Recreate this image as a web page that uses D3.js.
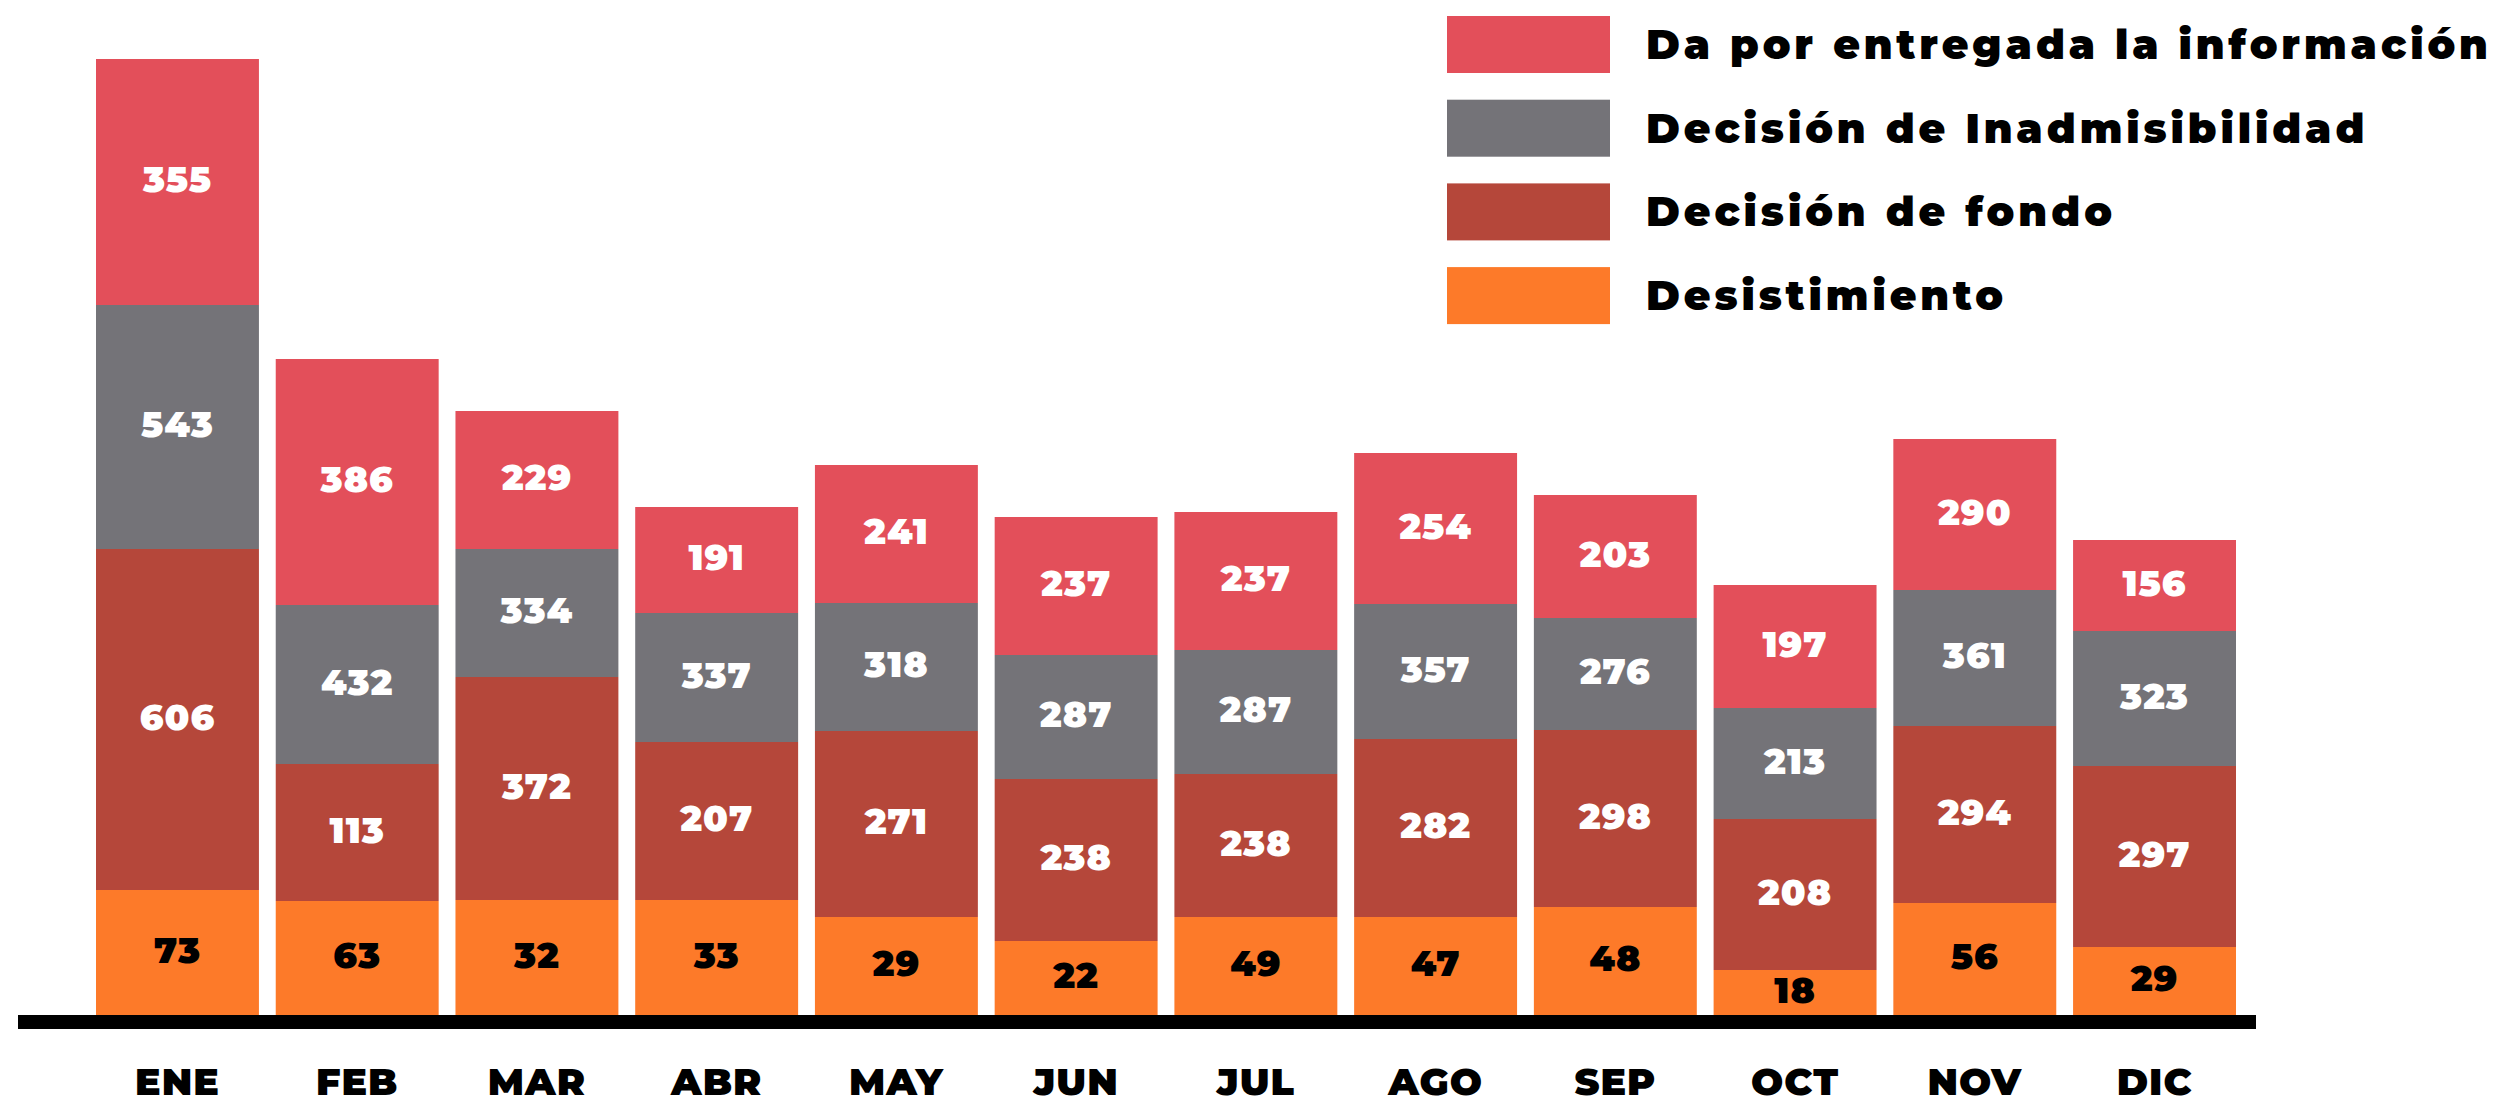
<!DOCTYPE html>
<html lang="es">
<head>
<meta charset="UTF-8">
<title>Resoluciones por mes</title>
<script src="https://d3js.org/d3.v7.min.js"></script>
<style>
  body { margin: 0; background: #fff; }
  text { font-family: Montserrat, Lato, "Open Sans", sans-serif; font-weight: 900; }
</style>
</head>
<body>
<svg id="chart" width="2501" height="1104"></svg>
<script>
const months = ["ENE", "FEB", "MAR", "ABR", "MAY", "JUN", "JUL", "AGO", "SEP", "OCT", "NOV", "DIC"];

// legend order, top to bottom
const seriesNames = ["Da por entregada la información", "Decisión de Inadmisibilidad", "Decisión de fondo", "Desistimiento"];
const seriesColors = ["#e34f5a", "#747378", "#b5473a", "#fd7a29"];

// numbers printed in each segment
const entregada = [355, 386, 229, 191, 241, 237, 237, 254, 203, 197, 290, 156];
const inadmisibilidad = [543, 432, 334, 337, 318, 287, 287, 357, 276, 213, 361, 323];
const fondo = [606, 113, 372, 207, 271, 238, 238, 282, 298, 208, 294, 297];
const desistimiento = [73, 63, 32, 33, 29, 22, 49, 47, 48, 18, 56, 29];

// segment sizes as drawn (the original does not scale bars to the numbers)
const hEntregada = [246, 246, 138, 106, 138, 138, 138, 151, 123, 123, 151, 91];
const hInadmisibilidad = [244, 159, 128, 129, 128, 124, 124, 135, 112, 111, 136, 135];
const hFondo = [341, 137, 223, 158, 186, 162, 143, 178, 177, 151, 177, 181];
const hDesistimiento = [125, 114, 115, 115, 98, 74, 98, 98, 108, 45, 112, 68];

const keys = ["desistimiento", "fondo", "inadmisibilidad", "entregada"];
const labels = { desistimiento, fondo, inadmisibilidad, entregada };
const sizes = { desistimiento: hDesistimiento, fondo: hFondo, inadmisibilidad: hInadmisibilidad, entregada: hEntregada };
const colorOf = {
  entregada: seriesColors[0], inadmisibilidad: seriesColors[1],
  fondo: seriesColors[2], desistimiento: seriesColors[3]
};

const rows = months.map((m, i) => {
  const r = { month: m, i: i };
  keys.forEach(k => r[k] = sizes[k][i]);
  return r;
});

const svg = d3.select("#chart");

const x = d3.scaleBand()
  .domain(months)
  .range([96, 2236])
  .paddingInner(0.0935)
  .paddingOuter(0);

const y = d3.scaleLinear()
  .domain([0, 956])
  .range([1015, 59]);

const stacked = d3.stack().keys(keys)(rows);

// Bars.
const layers = svg.append("g").attr("class", "bars")
  .selectAll("g")
  .data(stacked)
  .enter().append("g")
  .attr("fill", d => colorOf[d.key]);

layers.selectAll("rect")
  .data(d => d.map(p => ({ key: d.key, p: p })))
  .enter().append("rect")
  .attr("x", d => x(d.p.data.month))
  .attr("width", x.bandwidth())
  .attr("y", d => y(d.p[1]))
  .attr("height", d => y(d.p[0]) - y(d.p[1]));

// Value labels.
layers.selectAll("text")
  .data(d => d.map(p => ({ key: d.key, p: p })))
  .enter().append("text")
  .attr("x", d => x(d.p.data.month) + x.bandwidth() / 2)
  .attr("y", d => (y(d.p[0]) + y(d.p[1])) / 2 - 3)
  .attr("text-anchor", "middle")
  .attr("dominant-baseline", "central")
  .attr("fill", d => d.key === "desistimiento" ? "#000" : "#fff")
  .style("font-size", "36px")
  .style("letter-spacing", "1px")
  .text(d => labels[d.key][d.p.data.i]);

// Baseline.
svg.append("rect")
  .attr("x", 18)
  .attr("y", y(0))
  .attr("width", 2256 - 18)
  .attr("height", 14)
  .attr("fill", "#000");

// Month labels.
const xAxis = svg.append("g")
  .attr("transform", "translate(0,1055)")
  .call(d3.axisBottom(x).tickSize(0).tickPadding(0));
xAxis.select(".domain").remove();
xAxis.selectAll("text")
  .attr("dy", null)
  .attr("y", 40)
  .attr("fill", "#000")
  .style("font-family", "Montserrat, Lato, 'Open Sans', sans-serif")
  .style("font-weight", 900)
  .style("font-size", "38px")
  .style("letter-spacing", "1px");

// Legend.
const legend = svg.append("g").attr("class", "legend")
  .selectAll("g")
  .data(seriesNames)
  .enter().append("g")
  .attr("transform", (d, i) => "translate(1447," + (16 + i * 83.7) + ")");

legend.append("rect")
  .attr("width", 163)
  .attr("height", 57)
  .attr("fill", (d, i) => seriesColors[i]);

legend.append("text")
  .attr("x", 199)
  .attr("y", 43)
  .attr("fill", "#000")
  .style("font-size", "41px")
  .style("letter-spacing", "3.9px")
  .text(d => d);
</script>
</body>
</html>
